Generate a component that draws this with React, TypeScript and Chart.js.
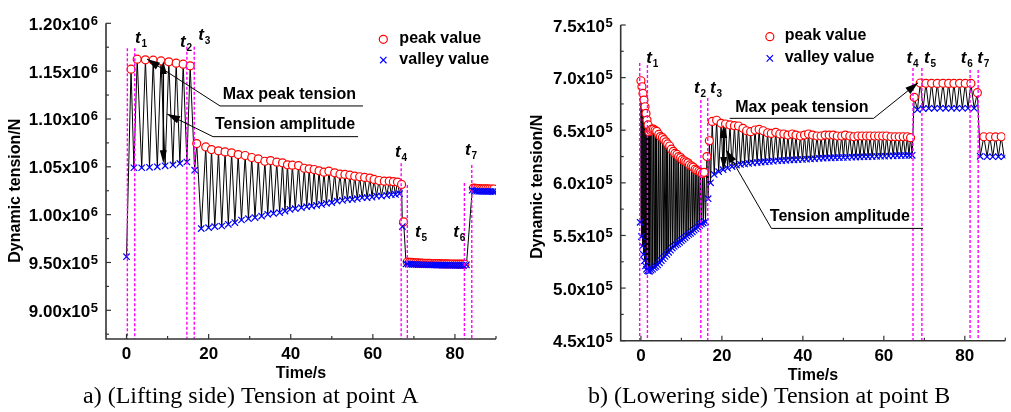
import React, { useEffect, useRef } from "react";
import { Chart, registerables } from "chart.js";

Chart.register(...registerables);

// ================= DATA =================
// Panel a) Lifting side, point A  (tension values in kN, plotted in N)
const peakTimeA = [
  1.1, 2.6, 4.6, 6.5, 8.4, 10.3, 12.1, 13.8, 15.5,
  17.1, 19.3, 20.7, 22.4, 24.0, 25.6, 27.2, 28.9, 30.5, 32.1, 33.7, 35.1, 36.6, 38.0, 39.2, 40.4, 41.9, 43.3, 44.5, 45.7,
  46.9, 48.1, 49.3, 50.7, 52.0, 53.2, 54.4, 55.6, 56.8, 58.0, 59.3, 60.3, 61.5, 62.8, 64.0, 65.0, 66.0, 67.0,
  67.5,
  68.4, 68.9, 69.4, 69.9, 70.4, 70.9, 71.4, 71.9, 72.4, 72.9, 73.4, 73.9, 74.4, 74.9, 75.4, 75.9, 76.4, 76.9, 77.4, 77.9,
  78.4, 78.9, 79.4, 79.9, 80.4, 80.9, 81.4, 81.9, 82.4,
  84.5, 85.0, 85.5, 86.0, 86.5, 87.0, 87.5, 88.0, 88.5, 89.0, 89.5,
];
const peakA_kN = [
  1152.0, 1162.5, 1161.8, 1161.5, 1160.7, 1159.7, 1158.3, 1157.3, 1155.5,
  1074.3, 1070.8, 1068.0, 1066.7, 1065.6, 1064.6, 1062.8, 1061.8, 1059.7, 1058.3, 1055.8, 1056.5, 1054.8, 1054.2, 1052.1, 1051.7, 1051.3, 1048.5, 1047.9, 1047.2,
  1045.8, 1044.4, 1045.4, 1043.7, 1042.3, 1042.0, 1041.2, 1040.2, 1039.6, 1038.9, 1038.2, 1036.8, 1035.7, 1035.0, 1035.0, 1034.4, 1034.0, 1031.6,
  992.5,
  950.5, 950.2, 950.0, 949.8, 949.6, 949.5, 949.4, 949.3, 949.2, 949.1, 949.0, 949.0, 948.9, 948.8, 948.8, 948.7, 948.7, 948.6, 948.6, 948.5,
  948.5, 948.4, 948.4, 948.3, 948.3, 948.2, 948.2, 948.2, 948.1,
  1027.8, 1027.4, 1027.2, 1027.1, 1027.0, 1027.0, 1026.9, 1026.9, 1026.8, 1026.8, 1026.8,
];
const valleyTimeA = [
  0.0, 1.8, 3.7, 5.6, 7.5, 9.4, 11.3, 13.0, 14.7, 16.6,
  18.2, 20.0, 21.5, 23.2, 24.8, 26.4, 28.0, 29.7, 31.3, 32.9, 34.4, 35.8, 37.3, 38.6, 39.8, 41.1, 42.6, 43.9, 45.1,
  46.3, 47.5, 48.7, 50.0, 51.3, 52.6, 53.8, 55.0, 56.2, 57.4, 58.6, 59.8, 60.9, 62.1, 63.4, 64.5, 65.5, 66.5,
  67.2,
  68.1, 68.6, 69.1, 69.6, 70.1, 70.6, 71.1, 71.6, 72.1, 72.6, 73.1, 73.6, 74.1, 74.6, 75.1, 75.6, 76.1, 76.6, 77.1, 77.6,
  78.1, 78.6, 79.1, 79.6, 80.1, 80.6, 81.1, 81.6, 82.1, 82.8,
  84.2, 84.8, 85.3, 85.8, 86.3, 86.8, 87.3, 87.8, 88.3, 88.8, 89.3, 89.8,
];
const valleyA_kN = [
  956.0, 1049.0, 1049.0, 1049.5, 1050.0, 1051.0, 1052.0, 1053.5, 1055.0, 1046.5,
  985.4, 986.4, 987.5, 988.1, 989.9, 991.7, 994.4, 995.8, 996.9, 998.5, 1000.3, 1001.3, 1002.1, 1003.7, 1005.5, 1006.2, 1007.3, 1008.3, 1009.0,
  1009.7, 1010.7, 1011.8, 1012.5, 1014.2, 1014.9, 1015.9, 1015.9, 1016.7, 1017.7, 1017.7, 1018.3, 1019.4, 1019.4, 1020.1, 1020.8, 1021.1, 1021.9,
  987.5,
  948.5, 948.3, 948.2, 948.0, 948.0, 947.9, 947.8, 947.8, 947.7, 947.6, 947.6, 947.5, 947.5, 947.4, 947.4, 947.3, 947.3, 947.3, 947.2, 947.2,
  947.2, 947.1, 947.1, 947.1, 947.0, 947.0, 947.0, 947.0, 946.9, 947.5,
  1025.5, 1024.8, 1024.5, 1024.4, 1024.4, 1024.3, 1024.3, 1024.2, 1024.2, 1024.2, 1024.1, 1024.1,
];

// Panel b) Lowering side, point B  (kN)
const peakTimeB = [
  0.0, 0.25, 0.5, 0.75, 1.0, 1.25, 1.5, 1.75, 2.0,
  2.3, 2.7, 3.1, 3.5, 3.9, 4.4, 4.8, 5.3, 5.7, 6.2, 6.6, 7.1, 7.5, 8.0, 8.4, 8.9, 9.3, 9.8, 10.2, 10.7,
  11.1, 11.6, 12.0, 12.5, 12.9, 13.4, 13.8, 14.3, 14.7, 15.2, 15.6,
  16.3, 16.9,
  17.6, 18.7, 19.8, 20.9, 22.0, 23.1, 24.1, 25.2, 26.1, 27.1, 28.2, 29.2, 30.2, 31.3, 32.2, 33.3, 34.3, 35.3, 36.3, 37.4,
  38.3, 39.4, 40.4, 41.4, 42.4, 43.5, 44.5, 45.5, 46.5, 47.5, 48.5, 49.6, 50.5, 51.6, 52.6, 53.6, 54.6, 55.7, 56.6, 57.7,
  58.7, 59.7, 60.7, 61.8, 62.8, 63.8, 64.8, 65.8, 66.6,
  67.5,
  69.0, 70.4, 71.8, 73.2, 74.6, 76.0, 77.3, 78.7, 80.1, 81.5,
  83.1,
  84.7, 86.2, 87.6, 89.0,
];
const peakB_kN = [
  697.0, 691.3, 685.0, 678.7, 672.3, 666.0, 659.7, 655.0, 648.6,
  650, 651, 651, 650, 649, 646, 644, 643, 641, 639, 637, 635, 632, 630, 628, 627, 625, 624, 622, 621,
  620, 619, 617, 616, 615, 613, 612, 611, 610, 609, 610,
  625, 640,
  658.4, 659.5, 656.6, 655.9, 655.0, 654.3, 654.0, 651.8, 649.5, 648.6, 650.2, 650.8, 649.5, 647.6, 647.0, 648.0, 646.4, 646.4, 645.4, 646.4,
  645.4, 644.5, 645.4, 646.4, 645.4, 644.5, 644.5, 645.4, 645.4, 645.4, 644.5, 644.5, 645.4, 644.5, 643.8, 644.5, 644.5, 644.5, 644.5, 644.5,
  644.5, 644.5, 644.5, 643.8, 643.8, 643.8, 643.8, 643.8, 642.9,
  681.3,
  694.9, 694.6, 694.6, 694.5, 694.6, 694.5, 694.5, 694.6, 694.5, 694.5,
  685.7,
  643.8, 643.8, 643.6, 643.8,
];
const valleyTimeB = [
  -0.2, 0.12, 0.37, 0.62, 0.87, 1.12, 1.37, 1.62, 1.87, 2.15,
  2.5, 2.9, 3.3, 3.7, 4.15, 4.6, 5.05, 5.5, 5.95, 6.4, 6.85, 7.3, 7.75, 8.2, 8.65, 9.1, 9.55, 10.0, 10.45, 10.9,
  11.35, 11.8, 12.25, 12.7, 13.15, 13.6, 14.05, 14.5, 14.95, 15.4,
  15.95, 16.6, 17.2,
  18.1, 19.2, 20.3, 21.4, 22.5, 23.6, 24.6, 25.6, 26.6, 27.6, 28.7, 29.7, 30.7, 31.7, 32.7, 33.8, 34.8, 35.8, 36.8, 37.8,
  38.8, 39.9, 40.9, 41.9, 42.9, 44.0, 45.0, 46.0, 47.0, 48.0, 49.0, 50.0, 51.0, 52.1, 53.1, 54.1, 55.1, 56.1, 57.1, 58.2,
  59.2, 60.2, 61.2, 62.3, 63.3, 64.3, 65.3, 66.2, 67.0,
  68.3, 69.7, 71.1, 72.5, 73.9, 75.3, 76.7, 78.0, 79.4, 80.8, 82.3,
  83.8, 85.5, 86.9, 88.3, 89.7,
];
const valleyB_kN = [
  562.5, 549.0, 540.0, 532.0, 526.0, 521.0, 518.0, 516.5, 516.0, 516.0,
  517, 518, 519.5, 520.5, 522, 524, 526, 528, 530, 532, 534, 536, 538, 539.5, 541, 542, 543.5, 545, 546.5, 548,
  549.5, 551, 552, 553.5, 555, 556.5, 558, 559.5, 561, 562,
  563, 585, 600,
  608.0, 610.6, 612.5, 614.0, 615.5, 616.9, 617.5, 618.0, 618.5, 619.0, 619.3, 619.6, 620.0, 620.3, 620.6, 621.0, 621.2, 621.4, 621.7, 621.9,
  622.1, 622.3, 622.5, 622.7, 623.0, 623.3, 623.4, 623.6, 623.7, 623.9, 624.0, 624.1, 624.2, 624.4, 624.5, 624.6, 624.8, 624.9, 625.0, 625.2,
  625.3, 625.4, 625.5, 625.6, 625.8, 625.9, 626.0, 626.1, 626.2,
  669.5, 670.5, 670.8, 670.8, 670.9, 670.8, 670.9, 670.8, 670.9, 670.9, 671.0,
  625.2, 624.8, 624.8, 624.9, 624.8,
];

// Axis ticks and tick labels
const xMajorTicks = [0, 20, 40, 60, 80];
const xMinorTicks = [10, 30, 50, 70, 90];
const yMajorA = [900000, 950000, 1000000, 1050000, 1100000, 1150000, 1200000];
const yMantA = ["9.00x10", "9.50x10", "1.00x10", "1.05x10", "1.10x10", "1.15x10", "1.20x10"];
const yExpA = ["5", "5", "6", "6", "6", "6", "6"];
const yMinorA = [875000, 925000, 975000, 1025000, 1075000, 1125000, 1175000];
const yMajorB = [450000, 500000, 550000, 600000, 650000, 700000, 750000];
const yMantB = ["4.5x10", "5.0x10", "5.5x10", "6.0x10", "6.5x10", "7.0x10", "7.5x10"];
const yExpB = ["5", "5", "5", "5", "5", "5", "5"];
const yMinorB = [475000, 525000, 575000, 625000, 675000, 725000];

// Event markers t0..t7 (time s, top of dashed line kN)
const eventTimesA = [0.2, 2.0, 14.7, 16.5, 66.9, 68.4, 82.3, 84.1];
const eventTopsA = [1174, 1174, 1175.5, 1175.5, 1053.7, 1031, 1033, 1051.9];
const eventTimesB = [-0.3, 1.6, 14.8, 16.5, 67.2, 69.4, 81.3, 83.3];
const eventTopsB = [713.9, 712, 678.7, 680.6, 709.1, 709.1, 707.2, 707.2];
const eventSubs = ["1", "2", "3", "4", "5", "6", "7"];

const SANS = "'Liberation Sans', Arial, Helvetica, sans-serif";
const SERIF = "'Liberation Serif', 'Times New Roman', serif";
const AXIS = "#333333";

type Pt = [number, number];
interface Callout { text: string; tip: Pt; elbow: Pt; lineFrom: number; lineTo: number; textT: number; textRise: number; }
interface Panel {
  peakT: number[]; peak: number[]; valleyT: number[]; valley: number[];
  yMin: number; yMax: number;
  yMajor: number[]; yMant: string[]; yExp: string[]; yMinor: number[];
  eventT: number[]; eventTop: number[];
  labelT: number[]; labelV: number[];
  callouts: Callout[];
  dbl: { t: number; top: number; bottom: number };
  legend: { t: number; v1: number; v2: number; textT: number };
  caption: string; captionX: number;
  yTitleX: number; yTitleY: number;
  padding: { left: number; right: number; top: number; bottom: number };
  width: number; left: number;
}

const panelA: Panel = {
  peakT: peakTimeA, peak: peakA_kN, valleyT: valleyTimeA, valley: valleyA_kN,
  yMin: 870000, yMax: 1200000,
  yMajor: yMajorA, yMant: yMantA, yExp: yExpA, yMinor: yMinorA,
  eventT: eventTimesA, eventTop: eventTopsA,
  labelT: [2.07, 13.03, 17.49, 65.41, 70.28, 79.61, 82.46],
  labelV: [1179.1, 1175.5, 1182.5, 1060.6, 976.5, 976.5, 1062.3],
  callouts: [
    { text: "Max peak tension", tip: [4.99, 1162.7], elbow: [22.78, 1113.6], lineFrom: 22.78, lineTo: 57.6, textT: 23.43, textRise: 6.7 },
    { text: "Tension amplitude", tip: [9.87, 1105.2], elbow: [21.07, 1081.5], lineFrom: 21.07, lineTo: 56.4, textT: 21.56, textRise: 7.3 },
  ],
  dbl: { t: 8.96, top: 1160.6, bottom: 1053.7 },
  legend: { t: 62.55, v1: 1183.3, v2: 1161.6, textT: 66.46 },
  caption: "a) (Lifting side) Tension at point A", captionX: 83,
  yTitleX: 19.5, yTitleY: 190.7,
  padding: { left: 106, right: 9, top: 23.3, bottom: 73 },
  width: 505, left: 0,
};

const panelB: Panel = {
  peakT: peakTimeB, peak: peakB_kN, valleyT: valleyTimeB, valley: valleyB_kN,
  yMin: 450000, yMax: 750000,
  yMajor: yMajorB, yMant: yMantB, yExp: yExpB, yMinor: yMinorB,
  eventT: eventTimesB, eventTop: eventTopsB,
  labelT: [1.34, 13.13, 17.03, 65.59, 69.91, 79.01, 83.09],
  labelV: [713.6, 685.1, 685.6, 713.6, 713.6, 713.6, 713.6],
  callouts: [
    { text: "Max peak tension", tip: [68.45, 695.2], elbow: [57.47, 661.3], lineFrom: 21.91, lineTo: 57.47, textT: 23.3, textRise: 6.8 },
    { text: "Tension amplitude", tip: [21.06, 631.2], elbow: [32.24, 556.7], lineFrom: 32.24, lineTo: 69.67, textT: 31.84, textRise: 7.8 },
  ],
  dbl: { t: 20.45, top: 655.0, bottom: 612.2 },
  legend: { t: 31.84, v1: 738.9, v2: 718.3, textT: 35.5 },
  caption: "b) (Lowering side) Tension at point B", captionX: 83,
  yTitleX: 36.6, yTitleY: 186.7,
  padding: { left: 115.7, right: 1, top: 25, bottom: 71.3 },
  width: 506, left: 505,
};

function arrowHead(ctx: CanvasRenderingContext2D, tx: number, ty: number, fx: number, fy: number, len: number, half: number) {
  const ang = Math.atan2(ty - fy, tx - fx);
  const bx = tx - len * Math.cos(ang), by = ty - len * Math.sin(ang);
  const nx = -Math.sin(ang) * half, ny = Math.cos(ang) * half;
  ctx.beginPath();
  ctx.moveTo(tx, ty);
  ctx.lineTo(bx + nx, by + ny);
  ctx.lineTo(bx - nx, by - ny);
  ctx.closePath();
  ctx.fillStyle = "#000";
  ctx.fill();
}

function makeDecor(p: Panel) {
  return {
    id: "decor",
    afterDatasetsDraw(chart: any) {
      const { ctx, chartArea: a } = chart;
      const X = (t: number) => chart.scales.x.getPixelForValue(t);
      const Y = (v: number) => chart.scales.y.getPixelForValue(v * 1000);
      ctx.save();
      ctx.strokeStyle = "#ff00ff";
      ctx.lineWidth = 1.4;
      ctx.setLineDash([3, 2]);
      p.eventT.forEach((t, i) => {
        const x = X(t);
        ctx.beginPath();
        ctx.moveTo(x, Y(p.eventTop[i]));
        ctx.lineTo(x, a.bottom);
        ctx.stroke();
      });
      ctx.restore();
    },
    afterDraw(chart: any) {
      const { ctx, chartArea: a } = chart;
      const X = (t: number) => chart.scales.x.getPixelForValue(t);
      const Y = (v: number) => chart.scales.y.getPixelForValue(v * 1000);
      const Yn = (v: number) => chart.scales.y.getPixelForValue(v);
      const line = (x1: number, y1: number, x2: number, y2: number) => {
        ctx.beginPath(); ctx.moveTo(x1, y1); ctx.lineTo(x2, y2); ctx.stroke();
      };
      ctx.save();
      ctx.setLineDash([]);
      // axes
      ctx.strokeStyle = AXIS;
      ctx.lineWidth = 1.6;
      ctx.beginPath();
      ctx.moveTo(a.left, a.top);
      ctx.lineTo(a.left, a.bottom);
      ctx.lineTo(a.right, a.bottom);
      ctx.stroke();
      ctx.lineWidth = 1.2;
      xMajorTicks.forEach((t) => line(X(t), a.bottom, X(t), a.bottom - 5));
      xMinorTicks.forEach((t) => line(X(t), a.bottom, X(t), a.bottom - 3));
      p.yMajor.forEach((v) => line(a.left, Yn(v), a.left + 5, Yn(v)));
      p.yMinor.forEach((v) => line(a.left, Yn(v), a.left + 3, Yn(v)));
      // tick labels
      ctx.fillStyle = "#000";
      ctx.textBaseline = "alphabetic";
      ctx.font = `bold 17px ${SANS}`;
      ctx.textAlign = "center";
      xMajorTicks.forEach((t) => ctx.fillText(String(t), X(t), a.bottom + 19.8));
      p.yMajor.forEach((v, i) => {
        const y = Yn(v);
        ctx.font = `bold 13px ${SANS}`;
        const sw = ctx.measureText(p.yExp[i]).width;
        const supLeft = a.left - 8 - sw;
        ctx.textAlign = "left";
        ctx.fillText(p.yExp[i], supLeft, y + 1.5);
        ctx.font = `bold 17px ${SANS}`;
        ctx.textAlign = "right";
        ctx.fillText(p.yMant[i], supLeft - 0.5, y + 6.5);
      });
      // axis titles
      ctx.font = `bold 16px ${SANS}`;
      ctx.textAlign = "center";
      ctx.fillText("Time/s", (a.left + a.right) / 2, a.bottom + 39.3);
      ctx.save();
      ctx.translate(p.yTitleX, p.yTitleY);
      ctx.rotate(-Math.PI / 2);
      ctx.fillText("Dynamic tension/N", 0, 0);
      ctx.restore();
      // caption
      ctx.font = `24px ${SERIF}`;
      ctx.textAlign = "left";
      ctx.fillText(p.caption, p.captionX, 403);
      // event labels
      p.labelT.forEach((t, i) => {
        const x = X(t), y = Y(p.labelV[i]);
        ctx.font = `italic bold 17px ${SANS}`;
        ctx.textAlign = "left";
        ctx.fillText("t", x, y);
        ctx.font = `bold 10px ${SANS}`;
        ctx.fillText(eventSubs[i], x + 6.5, y + 4);
      });
      // legend
      const lx = X(p.legend.t), ly1 = Y(p.legend.v1), ly2 = Y(p.legend.v2);
      ctx.lineWidth = 1.2;
      ctx.beginPath();
      ctx.arc(lx, ly1, 4, 0, Math.PI * 2);
      ctx.fillStyle = "#fff";
      ctx.fill();
      ctx.strokeStyle = "#ff0000";
      ctx.stroke();
      ctx.strokeStyle = "#0000ff";
      const d = 3.2;
      line(lx - d, ly2 - d, lx + d, ly2 + d);
      line(lx - d, ly2 + d, lx + d, ly2 - d);
      ctx.fillStyle = "#000";
      ctx.font = `bold 16px ${SANS}`;
      ctx.textAlign = "left";
      ctx.fillText("peak value", X(p.legend.textT), ly1 + 3.8);
      ctx.fillText("valley value", X(p.legend.textT), ly2 + 3.8);
      // callouts
      p.callouts.forEach((c) => {
        const tx = X(c.tip[0]), ty = Y(c.tip[1]);
        const ex = X(c.elbow[0]), ey = Y(c.elbow[1]);
        ctx.strokeStyle = "#000";
        ctx.lineWidth = 1;
        line(ex, ey, tx, ty);
        line(X(c.lineFrom), ey, X(c.lineTo), ey);
        arrowHead(ctx, tx, ty, ex, ey, 13, 4);
        ctx.fillStyle = "#000";
        ctx.font = `bold 16px ${SANS}`;
        ctx.textAlign = "left";
        ctx.fillText(c.text, X(c.textT), ey - c.textRise);
      });
      // double arrow (tension amplitude)
      const dx = X(p.dbl.t), dy1 = Y(p.dbl.top), dy2 = Y(p.dbl.bottom);
      ctx.strokeStyle = "#000";
      ctx.lineWidth = 1.5;
      line(dx, dy1 + 8, dx, dy2 - 8);
      arrowHead(ctx, dx, dy1, dx, dy2, 13, 3.5);
      arrowHead(ctx, dx, dy2, dx, dy1, 13, 3.5);
      ctx.restore();
    },
  };
}

function toPoints(ts: number[], vs: number[]) {
  return ts.map((t, i) => ({ x: t, y: vs[i] * 1000 }));
}

function PanelChart({ p }: { p: Panel }) {
  const ref = useRef<HTMLCanvasElement>(null);
  useEffect(() => {
    const peaks = toPoints(p.peakT, p.peak);
    const valleys = toPoints(p.valleyT, p.valley);
    const signal = [...peaks, ...valleys].sort((a, b) => a.x - b.x);
    const chart = new Chart(ref.current!, {
      type: "scatter",
      data: {
        datasets: [
          {
            label: "valley value", data: valleys, showLine: false,
            pointStyle: "crossRot", pointRadius: 4.5, pointBorderWidth: 1.2,
            pointBorderColor: "#0000ff", borderColor: "#0000ff", backgroundColor: "#0000ff",
          },
          {
            label: "peak value", data: peaks, showLine: false,
            pointStyle: "circle", pointRadius: 4, pointBorderWidth: 1.2,
            pointBorderColor: "#ff0000", pointBackgroundColor: "#ffffff", borderColor: "#ff0000", backgroundColor: "#ffffff",
          },
          {
            label: "signal", data: signal, showLine: true, pointRadius: 0,
            borderColor: "#000000", borderWidth: 1, tension: 0,
          },
        ],
      } as any,
      options: {
        responsive: false,
        animation: false,
        devicePixelRatio: 1,
        events: [],
        layout: { padding: p.padding },
        plugins: { legend: { display: false }, tooltip: { enabled: false } },
        scales: {
          x: { type: "linear", min: -5, max: 90, display: false },
          y: { type: "linear", min: p.yMin, max: p.yMax, display: false },
        },
      } as any,
      plugins: [makeDecor(p) as any],
    });
    return () => chart.destroy();
  }, [p]);
  return (
    <canvas
      ref={ref}
      width={p.width}
      height={412}
      style={{ position: "absolute", left: p.left, top: 0, width: p.width, height: 412 }}
    />
  );
}

export default function App() {
  return (
    <div style={{ position: "fixed", left: 0, top: 0, width: 1011, height: 412, background: "#ffffff" }}>
      <PanelChart p={panelA} />
      <PanelChart p={panelB} />
    </div>
  );
}
